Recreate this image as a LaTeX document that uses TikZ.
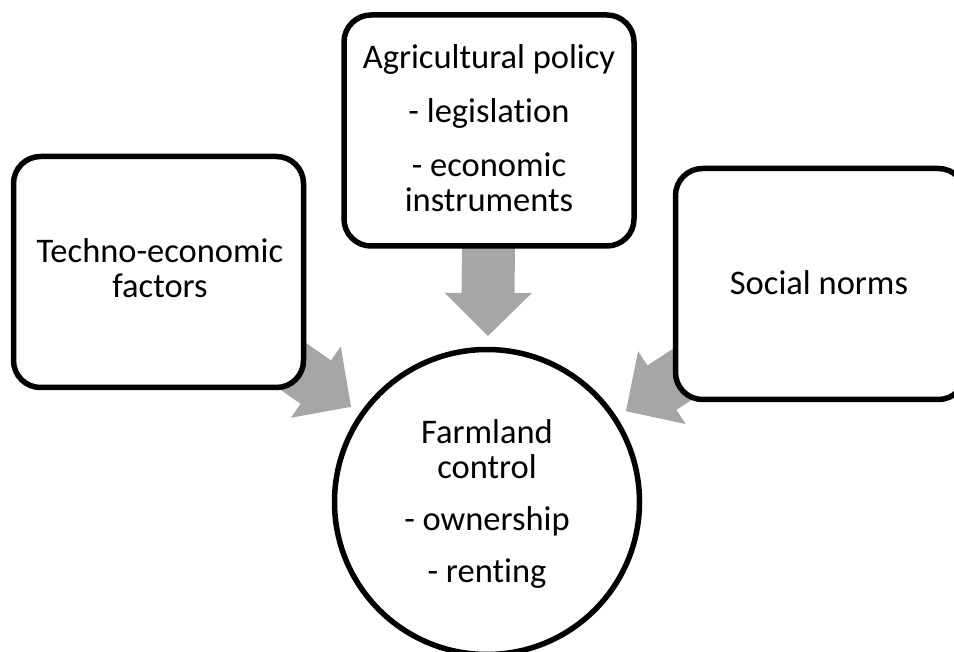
\documentclass[tikz,border=0pt]{standalone}
\usepackage{fontspec}
\setmainfont{Carlito}[Ligatures=NoCommon]
\usetikzlibrary{calc,backgrounds}
\definecolor{arrowgray}{RGB}{166,166,166}
% #1 tail, #2 tip, #3 prefix for helper coordinate
\newcommand\blockarrow[3]{%
  \coordinate (#3h) at ($(#2)!43pt!(#1)$);
  \fill[arrowgray] ($(#1)!26.5pt!90:(#2)$) -- ($(#3h)!26.5pt!90:(#2)$)
    -- ($(#3h)!43.5pt!90:(#2)$) -- (#2) -- ($(#3h)!43.5pt!-90:(#2)$)
    -- ($(#3h)!26.5pt!-90:(#2)$) -- ($(#1)!26.5pt!-90:(#2)$) -- cycle;
}
\begin{document}
\begin{tikzpicture}[x=1pt,y=-1pt,
  box/.style={draw, line width=5.5pt, rounded corners=27pt, fill=white,
    minimum width=290pt, minimum height=231pt, inner sep=0pt},
  hub/.style={draw, circle, line width=5.5pt, fill=white,
    minimum size=305pt, inner sep=0pt},
  txt/.style={font=\fontsize{34.5pt}{35pt}\selectfont, align=center,
    inner sep=0pt, anchor=base}]
\useasboundingbox (0,0) rectangle (954,652);
\clip (0,0) rectangle (954,652);
% shapes
\node[box] (agri) at (489,130.5) {};
\node[box] (techno) at (158.5,272) {};
\node[box] (social) at (820.5,284) {};
\node[hub] (farm) at (487,502) {};
% texts (base anchor = baseline of the last line)
\node[txt] (agritext) at (489,212) {Agricultural policy\\[19pt]- legislation\\[19pt]- economic\\instruments};
\node[txt] (technotext) at (160,298) {Techno-economic\\factors};
\node[txt] (socialtext) at (819,295) {Social norms};
\node[txt] (farmtext) at (487,582) {Farmland\\control\\[17pt]- ownership\\[17pt]- renting};
% arrows (behind the shapes)
\begin{pgfonlayer}{background}
\coordinate (tipT) at ($(farm.center)!166pt!(agri.center)$);
\coordinate (tipL) at ($(farm.center)!166pt!(techno.center)$);
\coordinate (tipR) at ($(farm.center)!166pt!(social.center)$);
\blockarrow{agri.center}{tipT}{T}
\blockarrow{techno.center}{tipL}{L}
\blockarrow{social.center}{tipR}{R}
\end{pgfonlayer}
\end{tikzpicture}
\end{document}
